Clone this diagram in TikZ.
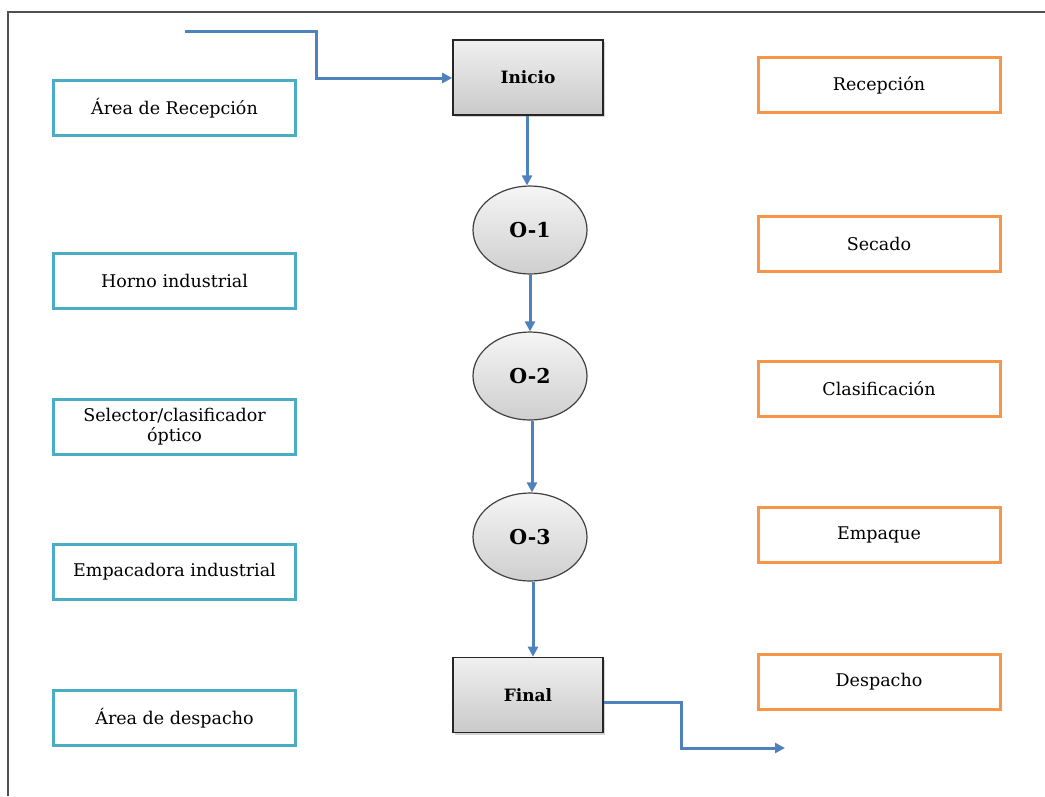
\documentclass[tikz,border=0pt]{standalone}
\usepackage{fontspec}
\setmainfont{DejaVu Serif}
\usetikzlibrary{arrows.meta,shapes.geometric,shadows}
\definecolor{flowblue}{HTML}{4F81BD}
\definecolor{aquab}{HTML}{4BACC6}
\definecolor{orangeb}{HTML}{F79646}
\definecolor{framec}{HTML}{505050}
\tikzset{
  equip/.style={draw=aquab, line width=3pt, minimum width=242pt, minimum height=55pt, inner sep=0pt, align=center, font=\fontsize{17.5}{20}\selectfont},
  proc/.style={draw=orangeb, line width=3pt, minimum width=242pt, minimum height=55pt, inner sep=0pt, align=center, font=\fontsize{17.5}{20}\selectfont},
  term/.style={draw=black!85, line width=1.6pt, top color=gray!12, bottom color=gray!42, minimum width=150pt, minimum height=75pt, inner sep=0pt, font=\bfseries\fontsize{17}{20}\selectfont, drop shadow={shadow xshift=2pt, shadow yshift=-2pt, opacity=0.35}},
  oper/.style={ellipse, draw=black!75, line width=1.2pt, top color=gray!8, bottom color=gray!38, minimum width=114pt, minimum height=88pt, inner sep=0pt, font=\bfseries\fontsize{20.5}{24}\selectfont},
  flow/.style={draw=flowblue, line width=3pt, -{Triangle[length=10pt,width=10pt]}},
  frameline/.style={draw=framec, line width=1.5pt}
}
\begin{document}
\begin{tikzpicture}[x=1pt,y=-1pt]
\useasboundingbox (0,0) rectangle (1045,796);
% frame
\coordinate (fa) at (8,796);
\coordinate (fb) at (8,12);
\coordinate (fc) at (1045,12);
\draw[frameline] (fa) -- (fb) -- (fc);

% central flow
\node[term] (inicio) at (528,77.5) {Inicio};
\node[oper] (o1) at (530,230) {O-1};
\node[oper] (o2) at (530,376) {O-2};
\node[oper] (o3) at (530,537) {O-3};
\node[term] (final) at (528,695) {Final};

% left boxes
\node[equip] (a1) at (174.5,108) {Área de Recepción};
\node[equip] (a2) at (174.5,281) {Horno industrial};
\node[equip] (a3) at (174.5,427) {Selector/clasificador\\óptico};
\node[equip] (a4) at (174.5,572) {Empacadora industrial};
\node[equip] (a5) at (174.5,718) {Área de despacho};

% right boxes
\node[proc] (b1) at (879,85) {Recepción};
\node[proc] (b2) at (879,244) {Secado};
\node[proc] (b3) at (879,389) {Clasificación};
\node[proc] (b4) at (879,535) {Empaque};
\node[proc] (b5) at (879,682) {Despacho};

% connectors
\coordinate (in0) at (185,31);
\coordinate (in1) at (316,31);
\coordinate (in2) at (316,78);
\draw[flow] (in0) -- (in1) -- (in2) -- (in2 -| inicio.west);
\draw[flow] (inicio.south -| 527,0) -- (o1.north -| 527,0);
\draw[flow] (o1.south) -- (o2.north);
\draw[flow] (o2.south -| 532,0) -- (o3.north -| 532,0);
\draw[flow] (o3.south -| 533,0) -- (final.north -| 533,0);
\coordinate (out0) at (603,702);
\coordinate (out1) at (681,702);
\coordinate (out2) at (681,748);
\coordinate (out3) at (785,748);
\draw[flow] (final.east |- out0) -- (out1) -- (out2) -- (out3);
\end{tikzpicture}
\end{document}
